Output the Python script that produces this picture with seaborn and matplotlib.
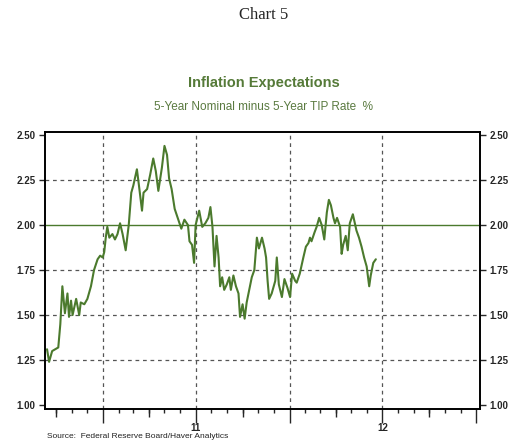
import pandas as pd
import matplotlib
matplotlib.use('Agg')
import matplotlib.pyplot as plt
import matplotlib.dates as mdates
import matplotlib.ticker as ticker
import seaborn as sns

sns.set_style('white')
plt.rcParams['font.family'] = ['Liberation Sans', 'DejaVu Sans']

# 5-year nominal minus 5-year TIPS yield
dates = [
    "2010-09-13", "2010-09-17", "2010-09-23", "2010-09-29", "2010-10-05", "2010-10-09", "2010-10-13", "2010-10-18", "2010-10-23", "2010-10-26", "2010-10-30",
    "2010-11-02", "2010-11-09", "2010-11-15", "2010-11-18", "2010-11-25", "2010-12-01", "2010-12-08", "2010-12-14", "2010-12-21", "2010-12-26", "2010-12-31",
    "2011-01-03", "2011-01-06", "2011-01-09", "2011-01-13", "2011-01-19", "2011-01-24", "2011-01-29", "2011-02-03", "2011-02-08", "2011-02-14", "2011-02-20", "2011-02-25",
    "2011-03-01", "2011-03-08", "2011-03-12", "2011-03-18", "2011-03-21", "2011-03-28", "2011-04-03", "2011-04-09", "2011-04-14", "2011-04-19", "2011-04-26",
    "2011-05-01", "2011-05-06", "2011-05-10", "2011-05-15", "2011-05-21", "2011-05-27", "2011-06-03", "2011-06-09", "2011-06-16", "2011-06-19", "2011-06-24", "2011-06-28",
    "2011-07-01", "2011-07-08", "2011-07-14", "2011-07-20", "2011-07-26", "2011-07-30", "2011-08-03", "2011-08-07", "2011-08-11", "2011-08-15", "2011-08-18", "2011-08-22", "2011-08-26", "2011-08-31",
    "2011-09-05", "2011-09-08", "2011-09-13", "2011-09-18", "2011-09-23", "2011-09-26", "2011-10-01", "2011-10-05", "2011-10-09", "2011-10-14", "2011-10-19", "2011-10-24", "2011-10-29",
    "2011-11-02", "2011-11-08", "2011-11-13", "2011-11-16", "2011-11-19", "2011-11-22", "2011-11-27", "2011-12-04", "2011-12-07", "2011-12-11", "2011-12-17", "2011-12-22", "2011-12-28",
    "2012-01-02", "2012-01-06", "2012-01-12", "2012-01-15", "2012-01-21", "2012-01-28", "2012-02-02", "2012-02-07", "2012-02-10", "2012-02-13", "2012-02-19", "2012-02-23", "2012-02-28",
    "2012-03-04", "2012-03-09", "2012-03-14", "2012-03-18", "2012-03-22", "2012-03-27", "2012-03-30", "2012-04-03", "2012-04-09", "2012-04-12", "2012-04-15", "2012-04-20", "2012-04-24", "2012-04-28",
    "2012-05-04", "2012-05-08", "2012-05-11", "2012-05-16", "2012-05-21", "2012-05-26", "2012-05-31", "2012-06-05", "2012-06-08", "2012-06-13", "2012-06-18",
]
spread = [
    1.31, 1.24, 1.30, 1.31, 1.32, 1.45, 1.66, 1.51, 1.62, 1.49, 1.58,
    1.50, 1.59, 1.50, 1.57, 1.56, 1.59, 1.66, 1.75, 1.81, 1.83, 1.82,
    1.85, 1.93, 1.99, 1.93, 1.95, 1.92, 1.95, 2.01, 1.95, 1.86, 2.00, 2.18,
    2.22, 2.31, 2.22, 2.08, 2.18, 2.20, 2.28, 2.37, 2.30, 2.19, 2.32,
    2.44, 2.39, 2.26, 2.20, 2.09, 2.04, 1.98, 2.03, 2.00, 1.91, 1.89, 1.79,
    2.00, 2.08, 1.99, 2.01, 2.04, 2.10, 1.99, 1.77, 1.94, 1.82, 1.66, 1.71, 1.64, 1.67,
    1.71, 1.64, 1.72, 1.66, 1.62, 1.49, 1.56, 1.48, 1.57, 1.64, 1.71, 1.75, 1.93,
    1.87, 1.93, 1.87, 1.82, 1.69, 1.59, 1.62, 1.69, 1.82, 1.67, 1.60, 1.70, 1.65,
    1.60, 1.73, 1.69, 1.68, 1.73, 1.82, 1.88, 1.90, 1.93, 1.91, 1.96, 1.99, 2.04,
    2.00, 1.92, 2.07, 2.14, 2.11, 2.04, 2.01, 2.04, 1.99, 1.84, 1.89, 1.94, 1.86, 2.01,
    2.06, 2.01, 1.97, 1.93, 1.88, 1.82, 1.77, 1.66, 1.72, 1.79, 1.81,
]
year_labels = {"2011-07-01": "11", "2012-07-01": "12"}
y_ticks = [1.00, 1.25, 1.50, 1.75, 2.00, 2.25, 2.50]
ref_level = 2.00

df = pd.DataFrame({'date': pd.to_datetime(dates), 'rate': spread})

green = '#4b7a2d'
fig = plt.figure(figsize=(5.27, 4.43), dpi=100)
ax = fig.add_axes([0.0854, 0.0767, 0.8254, 0.6253])

sns.lineplot(data=df, x='date', y='rate', ax=ax, color=green, linewidth=1.5)

ax.set_xlim(pd.Timestamp('2010-09-09'), pd.Timestamp('2013-01-08'))
ax.set_ylim(0.978, 2.517)
ax.set_xlabel('')
ax.set_ylabel('')

# y axis on both sides
ax.yaxis.set_major_locator(ticker.FixedLocator(y_ticks))
ax.yaxis.set_major_formatter(ticker.FormatStrFormatter('%.2f'))
ax.tick_params(axis='y', left=True, right=True, labelleft=True, labelright=True,
               direction='out', length=4, width=1, labelsize=7, pad=3)
for lab in ax.get_yticklabels():
    lab.set_fontweight('bold')

# x axis: half-year long ticks, quarterly medium, monthly short
ax.xaxis.set_major_locator(mdates.MonthLocator(bymonth=[1, 7]))
ax.xaxis.set_minor_locator(mdates.MonthLocator())
ax.xaxis.set_major_formatter(ticker.FuncFormatter(
    lambda v, pos: year_labels.get(mdates.num2date(v).strftime('%Y-%m-%d'), '')))
ax.tick_params(axis='x', which='major', bottom=True, direction='out', length=10,
               width=1, labelsize=7, pad=0)
ax.tick_params(axis='x', which='minor', bottom=True, direction='out', length=3, width=1)
for lab in ax.get_xticklabels():
    lab.set_fontweight('bold')

sec = ax.secondary_xaxis('bottom', functions=(lambda v: v, lambda v: v))
sec.xaxis.set_major_locator(mdates.MonthLocator(bymonth=[4, 10]))
sec.xaxis.set_major_formatter(ticker.NullFormatter())
sec.tick_params(axis='x', bottom=True, direction='out', length=5.5, width=1)
sec.spines['bottom'].set_visible(False)

# grid
for yv in y_ticks:
    if yv in (y_ticks[0], y_ticks[-1], ref_level):
        continue
    ax.axhline(yv, color='#555555', linewidth=0.9, linestyle=(0, (3, 3)), zorder=0)
for xv in ax.xaxis.get_majorticklocs():
    if ax.get_xlim()[0] < xv < ax.get_xlim()[1] - 10:
        ax.axvline(xv, color='#555555', linewidth=0.9, linestyle=(0, (3, 3)), zorder=0)
ax.axhline(ref_level, color=green, linewidth=1.0, zorder=1)

for side in ['left', 'right', 'top', 'bottom']:
    ax.spines[side].set_visible(True)
    ax.spines[side].set_color('black')
    ax.spines[side].set_linewidth(1.4)

fig.text(0.5, 0.966, 'Chart 5', ha='center', va='center', fontsize=12,
         family=['Liberation Serif', 'DejaVu Serif'])
fig.text(0.5, 0.812, 'Inflation Expectations', ha='center', va='center',
         fontsize=10.5, fontweight='bold', color='#557a38')
fig.text(0.5, 0.758, '5-Year Nominal minus 5-Year TIP Rate  %', ha='center',
         va='center', fontsize=8.5, color='#5a7a40')
fig.text(0.089, 0.014, 'Source:  Federal Reserve Board/Haver Analytics',
         ha='left', va='center', fontsize=6, color='#222222')

fig.savefig('out.png', dpi=100)
